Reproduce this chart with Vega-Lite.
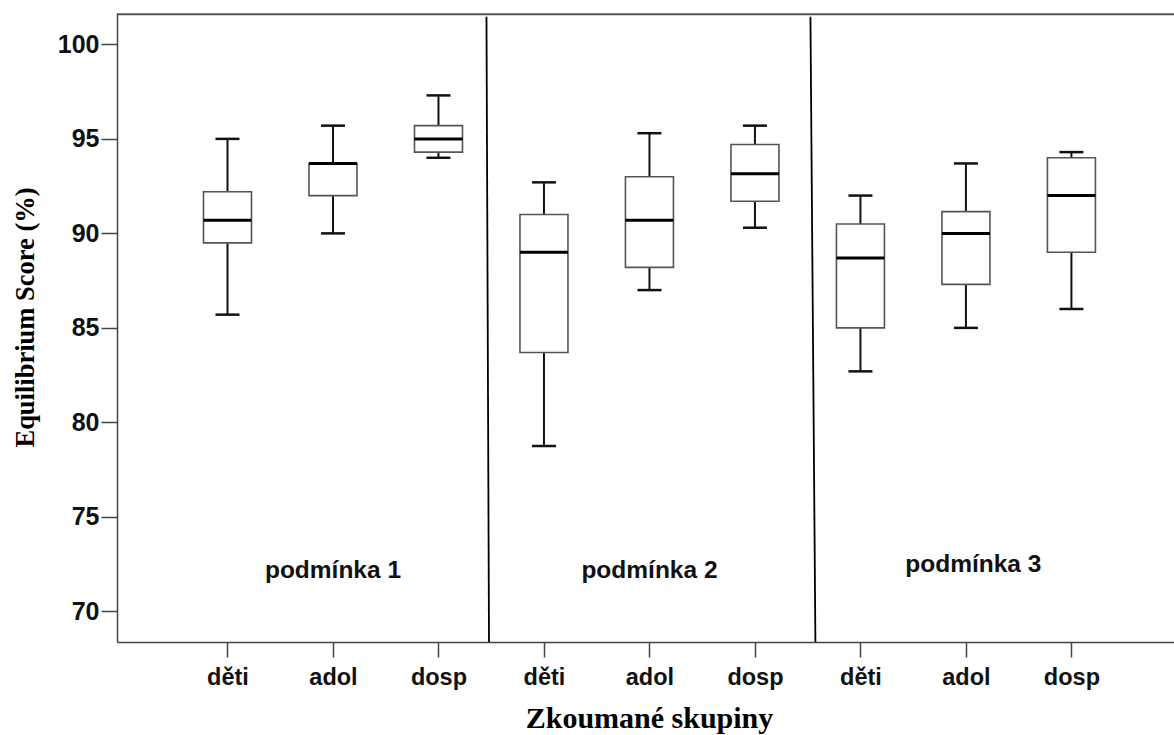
{
  "$schema": "https://vega.github.io/schema/vega-lite/v6.json",
  "width": 1057,
  "height": 629,
  "autosize": {"type": "none"},
  "padding": {"left": 117, "top": 13, "right": 0, "bottom": 93},
  "background": "white",
  "config": {
    "view": {"stroke": null},
    "axis": {
      "domainColor": "#444",
      "domainWidth": 1.5,
      "tickColor": "#444",
      "tickWidth": 1.5,
      "grid": false,
      "labelFont": "Liberation Sans",
      "labelFontWeight": "bold",
      "labelColor": "#111",
      "titleFont": "Liberation Serif",
      "titleFontWeight": "bold",
      "titleColor": "#000"
    }
  },
  "datasets": {
    "boxes": [
      {"poradi": 1, "podminka": "podmínka 1", "skupina": "děti", "dolni": 85.7, "q1": 89.5, "median": 90.7, "q3": 92.2, "horni": 95.0},
      {"poradi": 2, "podminka": "podmínka 1", "skupina": "adol", "dolni": 90.0, "q1": 92.0, "median": 93.7, "q3": 93.7, "horni": 95.7},
      {"poradi": 3, "podminka": "podmínka 1", "skupina": "dosp", "dolni": 94.0, "q1": 94.3, "median": 95.0, "q3": 95.7, "horni": 97.3},
      {"poradi": 4, "podminka": "podmínka 2", "skupina": "děti", "dolni": 78.75, "q1": 83.7, "median": 89.0, "q3": 91.0, "horni": 92.7},
      {"poradi": 5, "podminka": "podmínka 2", "skupina": "adol", "dolni": 87.0, "q1": 88.2, "median": 90.7, "q3": 93.0, "horni": 95.3},
      {"poradi": 6, "podminka": "podmínka 2", "skupina": "dosp", "dolni": 90.3, "q1": 91.7, "median": 93.15, "q3": 94.7, "horni": 95.7},
      {"poradi": 7, "podminka": "podmínka 3", "skupina": "děti", "dolni": 82.7, "q1": 85.0, "median": 88.7, "q3": 90.5, "horni": 92.0},
      {"poradi": 8, "podminka": "podmínka 3", "skupina": "adol", "dolni": 85.0, "q1": 87.3, "median": 90.0, "q3": 91.15, "horni": 93.7},
      {"poradi": 9, "podminka": "podmínka 3", "skupina": "dosp", "dolni": 86.0, "q1": 89.0, "median": 92.0, "q3": 94.0, "horni": 94.3}
    ],
    "separators": [
      {"x_top": 3.455, "x_bottom": 3.479},
      {"x_top": 6.526, "x_bottom": 6.573}
    ],
    "labels": [
      {"text": "podmínka 1", "x": 2.0, "y": 71.76},
      {"text": "podmínka 2", "x": 5.0, "y": 71.76},
      {"text": "podmínka 3", "x": 8.07, "y": 72.08}
    ]
  },
  "layer": [
    {
      "data": {"name": "boxes"},
      "mark": {"type": "rule", "color": "#111", "strokeWidth": 2},
      "encoding": {
        "x": {
          "field": "poradi",
          "type": "quantitative",
          "scale": {"domain": [0, 9.925], "nice": false, "zero": false},
          "axis": {
            "values": [1, 2, 3, 4, 5, 6, 7, 8, 9],
            "labelExpr": "['děti','adol','dosp'][(datum.value - 1) % 3]",
            "labelFontSize": 23.5,
            "tickSize": 15,
            "labelPadding": 8,
            "labelBaseline": "top",
            "title": "Zkoumané skupiny",
            "titleFontSize": 30,
            "titleX": 532,
            "titleY": 85,
            "titleAlign": "center",
            "titleBaseline": "alphabetic"
          }
        },
        "y": {
          "field": "q3",
          "type": "quantitative",
          "scale": {"domain": [68.38, 101.66], "nice": false, "zero": false},
          "axis": {
            "values": [70, 75, 80, 85, 90, 95, 100],
            "labelFontSize": 25,
            "tickSize": 16,
            "labelPadding": 2,
            "title": "Equilibrium Score (%)",
            "titleFontSize": 26.5,
            "titleX": -84,
            "titleY": 304,
            "titleAngle": -90,
            "titleAlign": "center",
            "titleBaseline": "alphabetic"
          }
        },
        "y2": {"field": "horni"}
      }
    },
    {
      "data": {"name": "boxes"},
      "mark": {"type": "rule", "color": "#111", "strokeWidth": 2},
      "encoding": {
        "x": {"field": "poradi", "type": "quantitative"},
        "y": {"field": "dolni", "type": "quantitative"},
        "y2": {"field": "q1"}
      }
    },
    {
      "data": {"name": "boxes"},
      "mark": {"type": "bar", "width": 48, "fill": "white", "stroke": "#555", "strokeWidth": 1.6},
      "encoding": {
        "x": {"field": "poradi", "type": "quantitative"},
        "y": {"field": "q1", "type": "quantitative"},
        "y2": {"field": "q3"}
      }
    },
    {
      "data": {"name": "boxes"},
      "mark": {"type": "tick", "orient": "horizontal", "size": 48, "thickness": 3, "color": "#000", "opacity": 1},
      "encoding": {
        "x": {"field": "poradi", "type": "quantitative"},
        "y": {"field": "median", "type": "quantitative"}
      }
    },
    {
      "data": {"name": "boxes"},
      "mark": {"type": "tick", "orient": "horizontal", "size": 24, "thickness": 2.5, "color": "#111", "opacity": 1},
      "encoding": {
        "x": {"field": "poradi", "type": "quantitative"},
        "y": {"field": "horni", "type": "quantitative"}
      }
    },
    {
      "data": {"name": "boxes"},
      "mark": {"type": "tick", "orient": "horizontal", "size": 24, "thickness": 2.5, "color": "#111", "opacity": 1},
      "encoding": {
        "x": {"field": "poradi", "type": "quantitative"},
        "y": {"field": "dolni", "type": "quantitative"}
      }
    },
    {
      "data": {"name": "separators"},
      "mark": {"type": "rule", "color": "#000", "strokeWidth": 1.8},
      "encoding": {
        "x": {"field": "x_top", "type": "quantitative"},
        "x2": {"field": "x_bottom"},
        "y": {"datum": 101.46},
        "y2": {"datum": 68.38}
      }
    },
    {
      "data": {"values": [{}]},
      "mark": {"type": "rule", "color": "#555", "strokeWidth": 2},
      "encoding": {
        "y": {"datum": 101.6}
      }
    },
    {
      "data": {"name": "labels"},
      "mark": {"type": "text", "font": "Liberation Sans", "fontWeight": "bold", "fontSize": 24.5, "align": "center", "baseline": "alphabetic", "color": "#111"},
      "encoding": {
        "x": {"field": "x", "type": "quantitative"},
        "y": {"field": "y", "type": "quantitative"},
        "text": {"field": "text"}
      }
    }
  ]
}
